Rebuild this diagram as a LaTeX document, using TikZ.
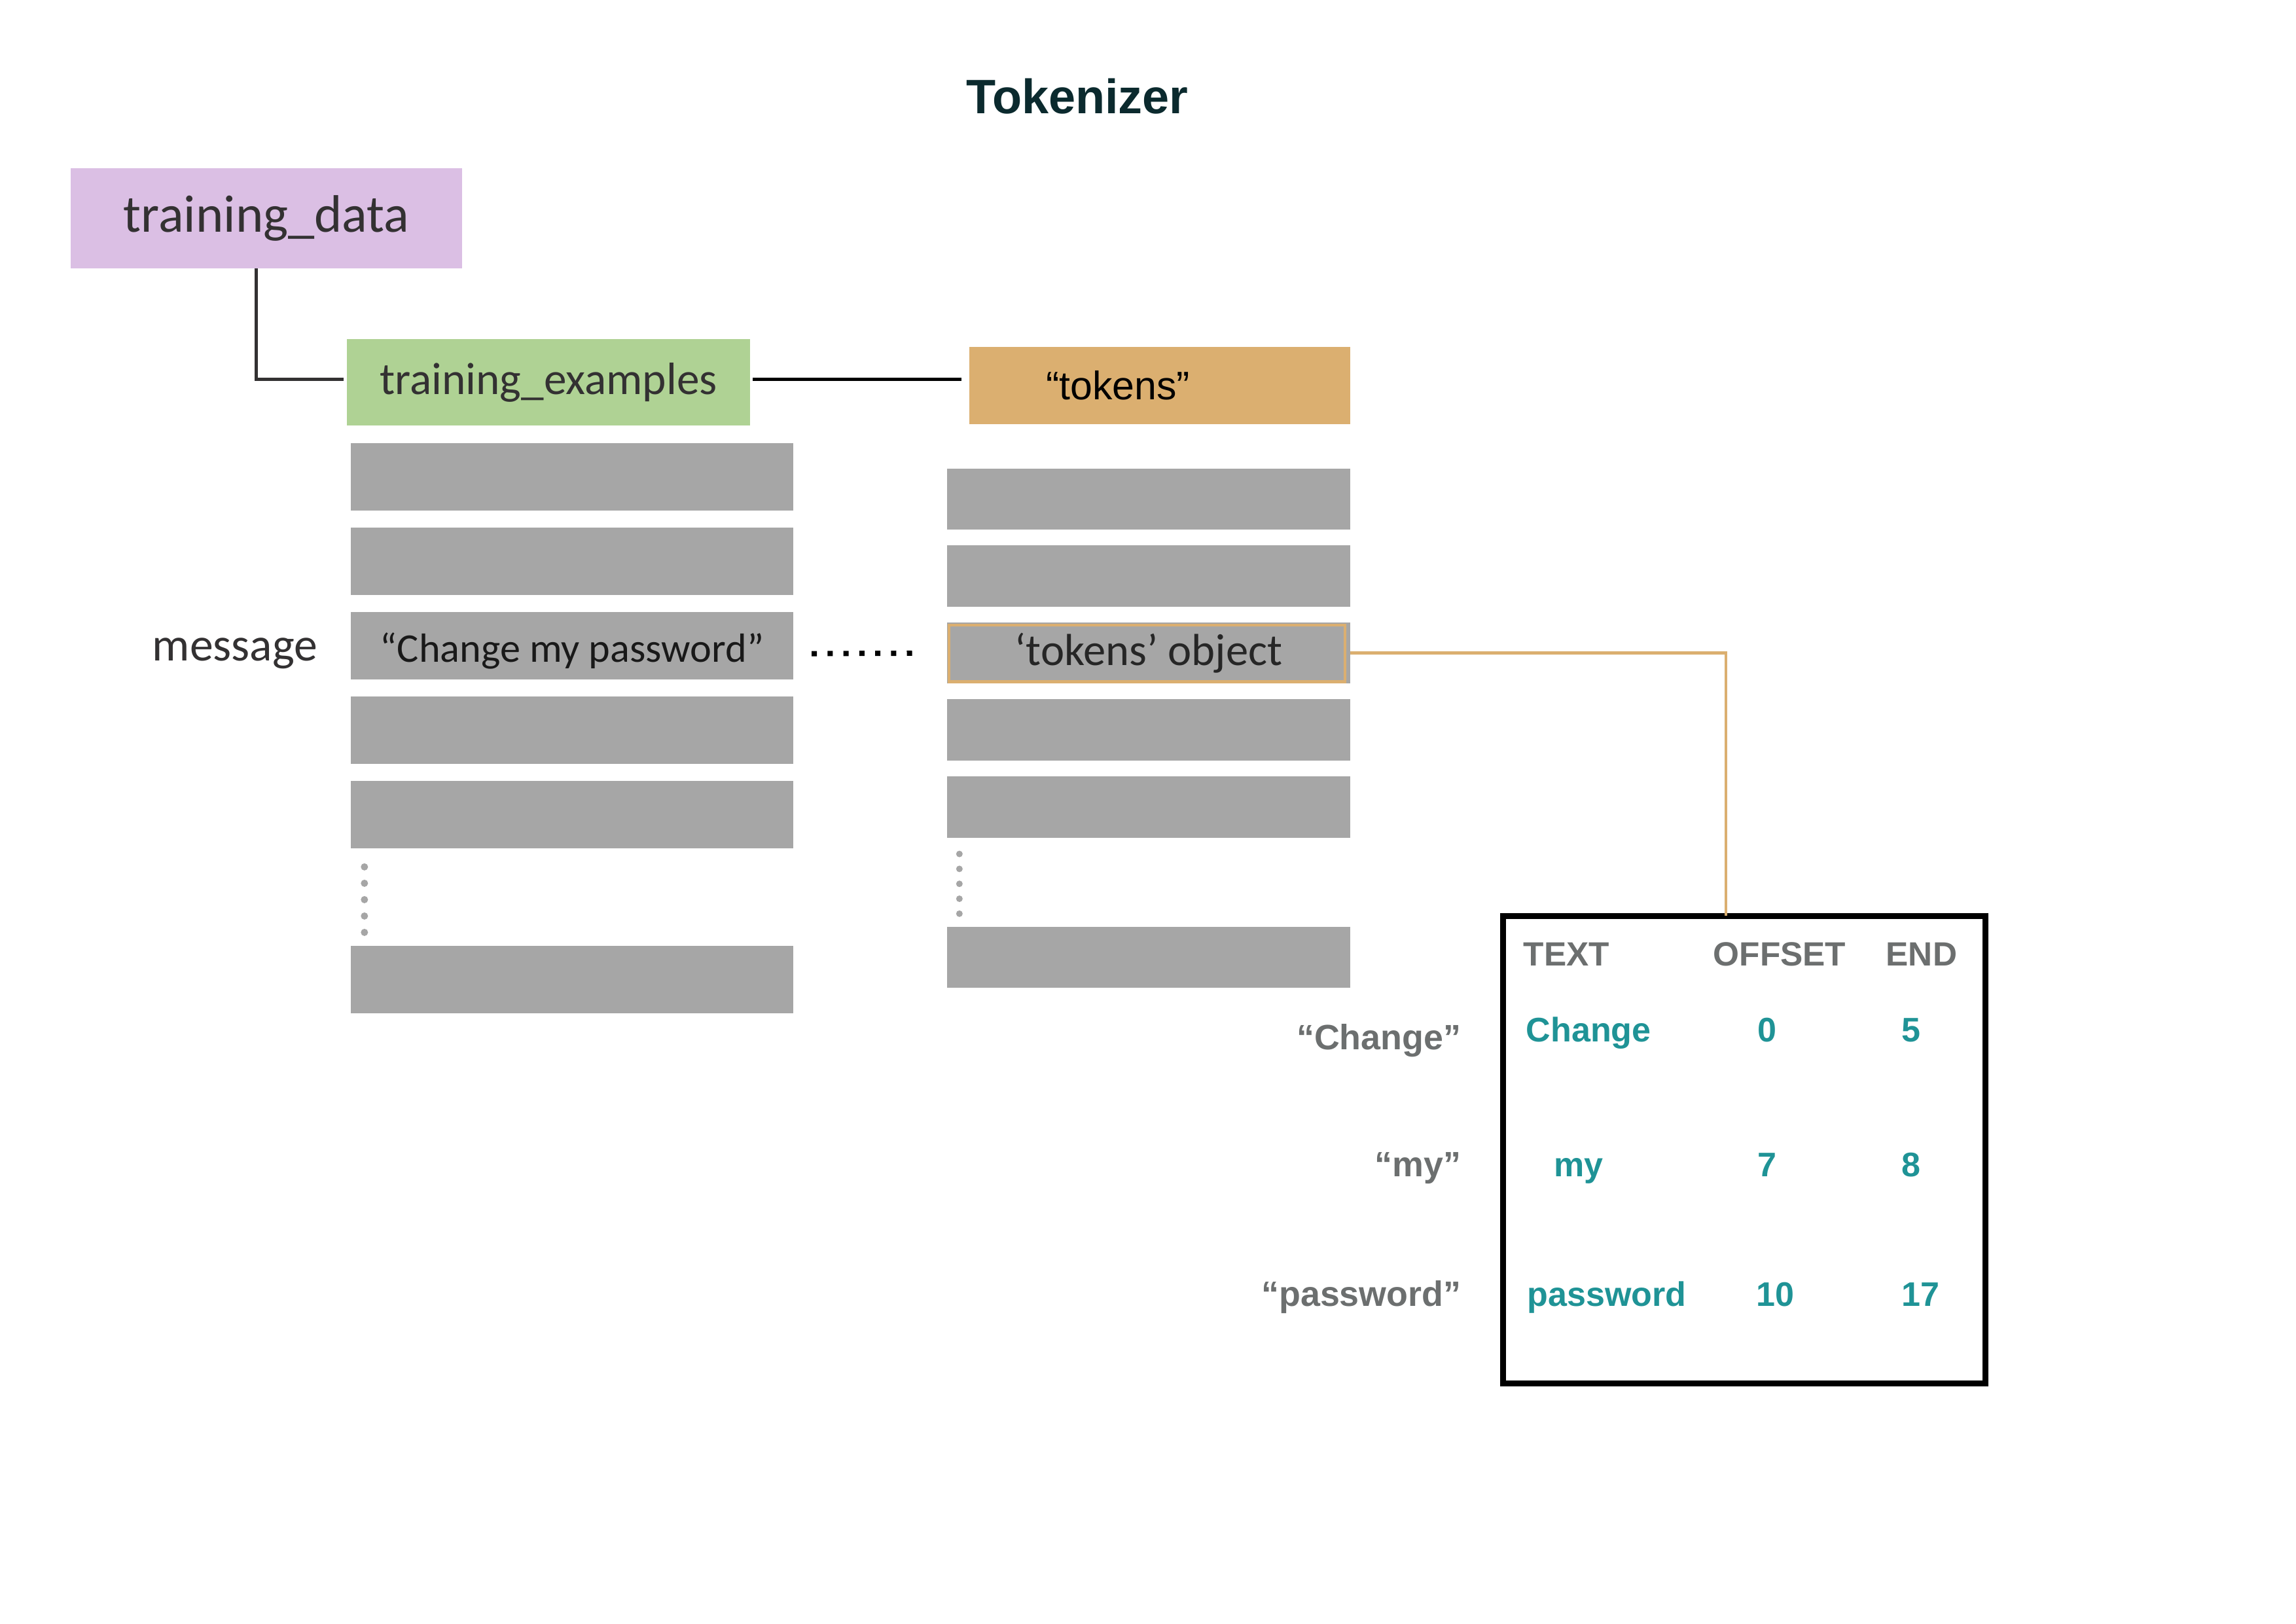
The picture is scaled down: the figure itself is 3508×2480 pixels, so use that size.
\documentclass[tikz,border=0pt]{standalone}
\usepackage{fontspec}
\setmainfont{Carlito}
\newfontfamily\arialfont{Liberation Sans}
\usetikzlibrary{positioning, calc}

\definecolor{lilac}{RGB}{219,191,228}
\definecolor{sage}{RGB}{175,210,148}
\definecolor{sand}{RGB}{219,175,112}
\definecolor{bargray}{RGB}{166,166,166}
\definecolor{tealink}{RGB}{31,147,150}
\definecolor{headgray}{RGB}{108,111,111}
\definecolor{titleink}{RGB}{11,42,46}
\definecolor{darkink}{RGB}{51,49,50}

\begin{document}
\begin{tikzpicture}[x=0.01cm, y=-0.01cm,
            databox/.style={fill=lilac,minimum width=5.98cm,minimum height=1.53cm,inner sep=0pt,outer sep=0pt,
                text=darkink,font=\fontsize{22.9pt}{26pt}\selectfont},
            exbox/.style={fill=sage,minimum width=6.16cm,minimum height=1.32cm,inner sep=0pt,outer sep=0pt,
                text=darkink,font=\fontsize{19.7pt}{23pt}\selectfont},
            tokbox/.style={fill=sand,minimum width=5.82cm,minimum height=1.18cm,inner sep=0pt,outer sep=0pt,
                font=\arialfont\fontsize{17.3pt}{20pt}\selectfont},
            lbar/.style={fill=bargray,minimum width=6.76cm,minimum height=1.03cm,inner sep=0pt,outer sep=0pt},
            rbar/.style={fill=bargray,minimum width=6.16cm,minimum height=0.935cm,inner sep=0pt,outer sep=0pt},
            tablebox/.style={draw=black,line width=0.09cm,minimum width=7.37cm,minimum height=7.14cm,inner sep=0pt,outer sep=0pt},
            titletext/.style={inner sep=0pt,text=titleink,font=\arialfont\bfseries\fontsize{21pt}{25pt}\selectfont},
            headtext/.style={inner sep=0pt,text=headgray,font=\arialfont\bfseries\fontsize{14.6pt}{17pt}\selectfont},
            celltext/.style={inner sep=0pt,text=tealink,font=\arialfont\bfseries\fontsize{14.8pt}{17pt}\selectfont},
            quotetext/.style={inner sep=0pt,text=headgray,font=\arialfont\bfseries\fontsize{15.3pt}{18pt}\selectfont},
            link/.style={draw=darkink,line width=0.05cm},
            tokline/.style={draw=sand,line width=0.045cm},
            hdots/.style={draw=black,line width=0.08cm,dash pattern=on 0.08cm off 0.162cm},
            vdots/.style={draw=bargray,line cap=round}]

            \useasboundingbox (0,0) rectangle (3508,2480);

            % Title
            \node[titletext,anchor=base] (title) at (1646,173) {Tokenizer};

            % Data boxes
            \node[databox] (tdata) at (407,333.5) {training\_data};
            \node[exbox] (texamp) at (838,584) {training\_examples};
            \node[tokbox] (tok) at (1772,589) {\hspace*{-1.28cm}“tokens”};

            % training examples column
            \node[lbar] (e1) at (874,728.5) {};
            \node[lbar,below=0.26cm of e1] (e2) {};
            \node[lbar,below=0.26cm of e2,text height=0.62cm,text depth=0.12cm,
                font=\fontsize{17.7pt}{21pt}\selectfont,text=black!90] (msg) {“Change my password”};
            \node[lbar,below=0.26cm of msg] (e4) {};
            \node[lbar,below=0.26cm of e4] (e5) {};
            \node[lbar] (elast) at (874,1496.5) {};
            \node[inner sep=0pt,anchor=base east,text=darkink,font=\fontsize{20.4pt}{24pt}\selectfont] (msglbl)
                at ([xshift=-0.50cm,yshift=-0.23cm]msg.west) {message};

            % tokens column
            \node[rbar] (t1) at (1755,762.5) {};
            \node[rbar,below=0.24cm of t1] (t2) {};
            \node[rbar,below=0.24cm of t2,font=\fontsize{19.5pt}{23pt}\selectfont,text=black!85] (tobj) {‘tokens’ object};
            \node[rbar,below=0.24cm of tobj] (t4) {};
            \node[rbar,below=0.24cm of t4] (t5) {};
            \node[rbar] (tlast) at (1755,1462.5) {};
            \draw[draw=sand,line width=0.045cm] ([xshift=0.03cm,yshift=-0.04cm]tobj.north west)
                rectangle ([xshift=-0.08cm,yshift=0.03cm]tobj.south east);

            % Connectors
            \draw[link] ([xshift=-0.15cm]tdata.south) |- ([xshift=-0.05cm,yshift=0.05cm]texamp.west);
            \draw[link,draw=black,shorten <=0.04cm,shorten >=0.12cm]
                ([yshift=0.05cm]texamp.east) -- ([yshift=0.05cm]texamp.east -| tok.west);
            \draw[hdots,shorten <=0.28cm,shorten >=0.5cm] ([yshift=-0.12cm]msg.east) -- (tobj.west);
            \draw[vdots,line width=0.11cm,dash pattern=on 0pt off 0.25cm]
                ([xshift=0.21cm,yshift=-0.28cm]e5.south west) -- ([xshift=0.21cm,yshift=0.20cm]elast.north west);
            \draw[vdots,line width=0.10cm,dash pattern=on 0pt off 0.228cm]
                ([xshift=0.19cm,yshift=-0.25cm]t5.south west) -- ([xshift=0.19cm,yshift=0.19cm]tlast.north west);

            % Token table
            \node[tablebox] (tbl) at (2665,1756.5) {};
            \draw[tokline] (tobj.east) -| ([xshift=-0.28cm]tbl.north);

            \node[headtext,anchor=base west] (htext) at (2327,1475) {TEXT};
            \node[headtext,anchor=base west] (hoff) at (2617,1475) {OFFSET};
            \node[headtext,anchor=base west] (hend) at (2881,1475) {END};

            \node[celltext,anchor=base west] (w1) at (2331,1591) {Change};
            \node[celltext,anchor=base] (off1) at (2700,1591) {0};
            \node[celltext,anchor=base] (end1) at (2920,1591) {5};

            \node[celltext,anchor=base west] (w2) at (2374,1797) {my};
            \node[celltext,anchor=base] (off2) at (2700,1797) {7};
            \node[celltext,anchor=base] (end2) at (2920,1797) {8};

            \node[celltext,anchor=base west] (w3) at (2333,1995) {password};
            \node[celltext,anchor=base] (off3) at (2712,1995) {10};
            \node[celltext,anchor=base] (end3) at (2934,1995) {17};

            % Token labels left of the table
            \node[quotetext,anchor=base east] (q1) at (2233,1603) {“Change”};
            \node[quotetext,anchor=base east] (q2) at (2233,1797) {“my”};
            \node[quotetext,anchor=base east] (q3) at (2233,1995) {“password”};
        \end{tikzpicture}
\end{document}
